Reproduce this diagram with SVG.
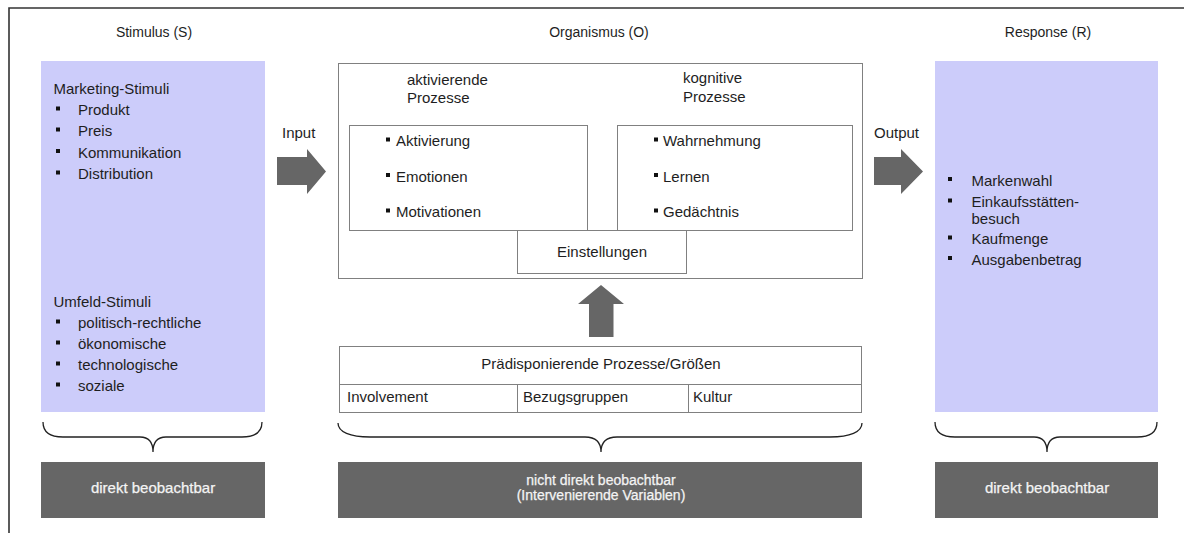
<svg xmlns="http://www.w3.org/2000/svg" width="1184" height="533" viewBox="0 0 1184 533">
<style>
text{font-family:"Liberation Sans",Arial,sans-serif;fill:#1e1e1e;font-size:15px}
.h{font-size:14px}
.c{text-anchor:middle}
.w{fill:#f4f4f4;font-size:15px;stroke:#f4f4f4;stroke-width:0.25}
.s{font-size:14px}
.box{fill:#fff;stroke:#808080;stroke-width:1}
.pur{fill:#ccccfa}
.dark{fill:#666}
.arr{fill:#666}
.br{fill:none;stroke:#222;stroke-width:1.3}
.b{fill:#111}
</style>
<rect width="1184" height="533" fill="#fff"/>
<path d="M9,533 V8 H1184" fill="none" stroke="#333" stroke-width="1.6"/>

<g id="stimulus">
<text class="h c" x="154" y="37">Stimulus (S)</text>
<rect class="pur" x="41" y="61" width="224" height="351"/>
<text x="53.5" y="94">Marketing-Stimuli</text>
<rect class="b" x="56" y="106.5" width="4" height="4"/><text x="78" y="115">Produkt</text>
<rect class="b" x="56" y="127.5" width="4" height="4"/><text x="78" y="136">Preis</text>
<rect class="b" x="56" y="149" width="4" height="4"/><text x="78" y="157.5">Kommunikation</text>
<rect class="b" x="56" y="170.5" width="4" height="4"/><text x="78" y="179">Distribution</text>
<text x="53.5" y="306.5">Umfeld-Stimuli</text>
<rect class="b" x="56" y="319.5" width="4" height="4"/><text x="78" y="328">politisch-rechtliche</text>
<rect class="b" x="56" y="340.5" width="4" height="4"/><text x="78" y="349">ökonomische</text>
<rect class="b" x="56" y="361.5" width="4" height="4"/><text x="78" y="370">technologische</text>
<rect class="b" x="56" y="382.5" width="4" height="4"/><text x="78" y="391">soziale</text>
</g>

<g id="organismus">
<text class="h c" x="599" y="37">Organismus (O)</text>
<rect class="box" x="338.5" y="63.5" width="524" height="215"/>
<text x="407" y="85">aktivierende</text>
<text x="407" y="103">Prozesse</text>
<text x="683" y="83">kognitive</text>
<text x="683" y="101.5">Prozesse</text>
</g>

<g id="aktivierend">
<rect class="box" x="349.5" y="125.5" width="238" height="105"/>
<rect class="b" x="386" y="137.5" width="4" height="4"/><text x="396" y="146">Aktivierung</text>
<rect class="b" x="386" y="173" width="4" height="4"/><text x="396" y="181.5">Emotionen</text>
<rect class="b" x="386" y="208.5" width="4" height="4"/><text x="396" y="217">Motivationen</text>
</g>

<g id="kognitiv">
<rect class="box" x="617.5" y="125.5" width="235" height="105"/>
<rect class="b" x="654" y="137.5" width="4" height="4"/><text x="663" y="146">Wahrnehmung</text>
<rect class="b" x="654" y="173" width="4" height="4"/><text x="663" y="181.5">Lernen</text>
<rect class="b" x="654" y="208.5" width="4" height="4"/><text x="663" y="217">Gedächtnis</text>
</g>

<g id="einstellungen">
<rect class="box" x="517.5" y="230.5" width="169" height="43"/>
<text class="c" x="602" y="257">Einstellungen</text>
</g>

<g id="praedisponierend">
<rect class="box" x="339.5" y="346.5" width="522" height="66"/>
<line x1="339.5" y1="384.5" x2="861.5" y2="384.5" stroke="#808080"/>
<line x1="517.5" y1="384.5" x2="517.5" y2="412.5" stroke="#808080"/>
<line x1="688.5" y1="384.5" x2="688.5" y2="412.5" stroke="#808080"/>
<text class="c" x="601" y="369">Prädisponierende Prozesse/Größen</text>
<text x="347" y="402">Involvement</text>
<text x="523" y="402">Bezugsgruppen</text>
<text x="693" y="402">Kultur</text>
</g>

<g id="response">
<text class="h c" x="1048" y="37">Response (R)</text>
<rect class="pur" x="935" y="61" width="223" height="351"/>
<rect class="b" x="948" y="177" width="4" height="4"/><text x="971.5" y="185.5">Markenwahl</text>
<rect class="b" x="948" y="198.5" width="4" height="4"/><text x="971.5" y="207">Einkaufsstätten-</text>
<text x="971.5" y="224">besuch</text>
<rect class="b" x="948" y="235.5" width="4" height="4"/><text x="971.5" y="244">Kaufmenge</text>
<rect class="b" x="948" y="256" width="4" height="4"/><text x="971.5" y="264.5">Ausgabenbetrag</text>
</g>

<g id="obs-left">
<rect class="dark" x="41" y="462" width="224" height="56"/>
<text class="w c" x="153" y="493">direkt beobachtbar</text>
</g>
<g id="obs-mid">
<rect class="dark" x="338" y="462" width="524" height="56"/>
<text class="w s c" x="601" y="485">nicht direkt beobachtbar</text>
<text class="w s c" x="601" y="500">(Intervenierende Variablen)</text>
</g>
<g id="obs-right">
<rect class="dark" x="935" y="462" width="223" height="56"/>
<text class="w c" x="1047" y="493">direkt beobachtbar</text>
</g>

<g id="connectors">
<text x="282" y="138">Input</text>
<polygon class="arr" points="277,157 307,157 307,149 326,171.5 307,194 307,185 277,185"/>
<text x="874" y="138">Output</text>
<polygon class="arr" points="874,157 901,157 901,149 923,171.5 901,194 901,185 874,185"/>
<polygon class="arr" points="601,285 624,304 613.5,304 613.5,337 589,337 589,304 578,304"/>
<path class="br" d="M43,422 C43,432 50,437 63,437 L140,437 C148,437 153,442 153,452 C153,442 158,437 166,437 L242,437 C255,437 262,432 262,422"/>
<path class="br" d="M338,423 C338,432 350,437 370,437 L585,437 C595,437 601,442 601,452 C601,442 607,437 617,437 L830,437 C850,437 862,432 862,423"/>
<path class="br" d="M935,422 C935,432 942,437 955,437 L1034,437 C1042,437 1047,442 1047,452 C1047,442 1052,437 1060,437 L1137,437 C1150,437 1157,432 1157,422"/>
</g>
</svg>
